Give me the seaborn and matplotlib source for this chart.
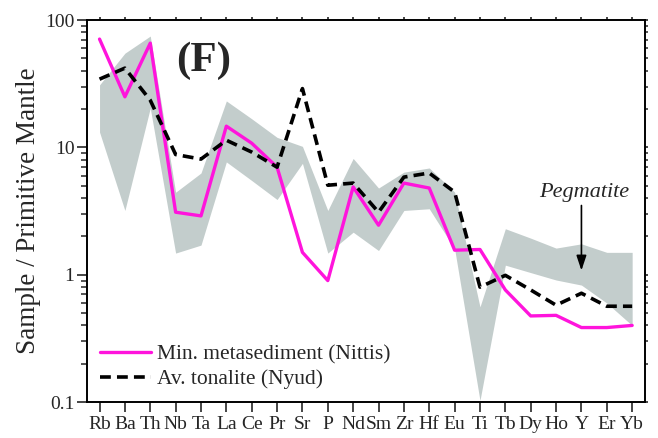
import matplotlib
matplotlib.use("Agg")
import matplotlib.pyplot as plt
import seaborn as sns
import pandas as pd
import numpy as np
from matplotlib.lines import Line2D
from matplotlib.ticker import LogLocator, NullFormatter, FixedLocator

elements = ["Rb", "Ba", "Th", "Nb", "Ta", "La", "Ce", "Pr", "Sr", "P", "Nd", "Sm",
            "Zr", "Hf", "Eu", "Ti", "Tb", "Dy", "Ho", "Y", "Er", "Yb"]
metasediment = [71, 25, 66, 3.1, 2.9, 14.7, 10.8, 7.0, 1.5, 0.9, 4.9, 2.45,
                5.25, 4.8, 1.56, 1.58, 0.76, 0.475, 0.48, 0.385, 0.385, 0.40]
tonalite = [34.4, 42, 23.5, 8.8, 8.1, 11.4, 9.2, 7.0, 29, 5.05, 5.25, 3.1,
            5.85, 6.3, 4.46, 0.80, 0.99, 0.76, 0.577, 0.716, 0.566, 0.566]
pegmatite_upper = [31, 55, 75, 4.45, 6.3, 23.2, 16.8, 12.0, 10.2, 3.2, 8.2, 4.8,
                   6.4, 6.9, 4.46, 0.56, 2.3, 1.94, 1.62, 1.75, 1.5, 1.5]
pegmatite_lower = [13.2, 3.2, 20.4, 1.48, 1.71, 7.7, 5.5, 3.9, 7.5, 1.48, 2.16, 1.55,
                   3.2, 3.3, 1.6, 0.103, 1.19, 1.04, 0.91, 0.83, 0.6, 0.40]

sns.set_style("ticks")
plt.rcParams["font.family"] = ["Liberation Serif", "DejaVu Serif"]

pink = "#FF14DC"
band = "#C3CDCC"

x = np.arange(len(elements))
df = pd.DataFrame({"pos": x, "meta": metasediment, "ton": tonalite,
                   "up": pegmatite_upper, "lo": pegmatite_lower})

fig = plt.figure(figsize=(6.58, 4.38), dpi=100)
ax = fig.add_axes([0.132, 0.082, 0.848, 0.872])

ax.fill_between(df["pos"], df["lo"], df["up"], color=band, linewidth=0, zorder=1)
sns.lineplot(data=df, x="pos", y="meta", ax=ax, color=pink, linewidth=2.4, zorder=3)
sns.lineplot(data=df, x="pos", y="ton", ax=ax, color="black", linewidth=2.6,
             dashes=False, zorder=4).lines[-1].set_dashes((3.0, 1.7))

ax.set_yscale("log")
ax.set_ylim(0.1, 100)
ax.set_xlim(-0.5, len(elements) - 0.5)
ax.set_xticks(x)
ax.set_xticklabels(elements)
ax.set_xlabel("")
ax.set_ylabel("Sample / Primitive Mantle", fontsize=19.5, labelpad=3)

ax.yaxis.set_major_locator(FixedLocator([0.1, 1, 10, 100]))
ax.set_yticklabels(["0.1", "1", "10", "100"])
ax.yaxis.set_minor_locator(LogLocator(base=10, subs=np.arange(2, 10)))
ax.yaxis.set_minor_formatter(NullFormatter())

for s in ax.spines.values():
    s.set_linewidth(1.4)
    s.set_color("black")

ax.tick_params(axis="x", which="major", direction="out", length=7, width=1.2,
               labelsize=14, pad=3, top=True)
ax.tick_params(axis="y", which="major", direction="out", length=7, width=1.2,
               labelsize=14, pad=2, right=True)
ax.tick_params(axis="y", which="minor", direction="out", length=4, width=1.1,
               right=True)
ax.xaxis.set_tick_params(which="major", top=True)
for t in ax.xaxis.get_major_ticks():
    t.tick2line.set_markersize(2.5)
for t in ax.yaxis.get_major_ticks():
    t.tick2line.set_markersize(2)
for t in ax.yaxis.get_minor_ticks():
    t.tick2line.set_markersize(2)

ax.text(4.1, 48, "(F)", fontsize=31, fontweight="bold", ha="center", va="center")

ax.annotate("", xy=(19, 1.08), xytext=(19, 3.5),
            arrowprops=dict(arrowstyle="-|>,head_length=0.9,head_width=0.3",
                            color="black", lw=1.2, shrinkA=0, shrinkB=0))
ax.text(19.1, 4.45, "Pegmatite", fontsize=16, style="italic", ha="center", va="center")

handles = [Line2D([], [], color=pink, lw=2.4),
           Line2D([], [], color="black", lw=2.6, dashes=(3.0, 1.7))]
ax.legend(handles, ["Min. metasediment (Nittis)", "Av. tonalite (Nyud)"],
          loc="lower left", bbox_to_anchor=(0.0, 0.0), frameon=False,
          fontsize=15.5, handlelength=2.4, handletextpad=0.25, labelspacing=0.2,
          borderaxespad=0.3, borderpad=0.3)

fig.savefig("out.png", dpi=100)
